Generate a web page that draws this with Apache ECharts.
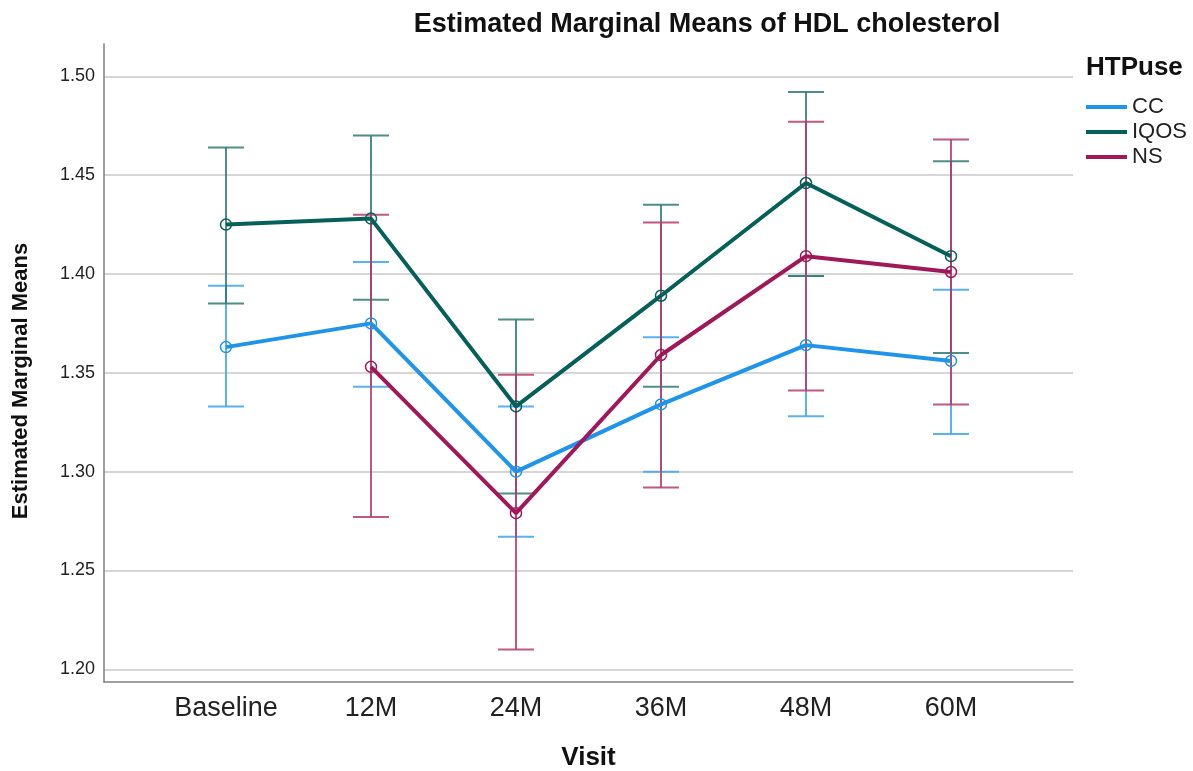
<!DOCTYPE html>
<html>
<head>
<meta charset="utf-8">
<script src="https://cdn.jsdelivr.net/npm/echarts@6/dist/echarts.min.js"></script>
<style>
  html, body { margin: 0; padding: 0; background: #ffffff; }
  #chart { width: 1193px; height: 771px; }
</style>
</head>
<body>
<div id="chart"></div>
<script>
// Visits on the x axis
const visits = ['Baseline', '12M', '24M', '36M', '48M', '60M'];

// Estimated marginal means of HDL cholesterol with 95% CI, per HTPuse group
const ccMean  = [1.363, 1.375, 1.300, 1.334, 1.364, 1.356];
const ccLow   = [1.333, 1.343, 1.267, 1.300, 1.328, 1.319];
const ccHigh  = [1.394, 1.406, 1.333, 1.368, 1.399, 1.392];

const iqosMean = [1.425, 1.428, 1.333, 1.389, 1.446, 1.409];
const iqosLow  = [1.385, 1.387, 1.289, 1.343, 1.399, 1.360];
const iqosHigh = [1.464, 1.470, 1.377, 1.435, 1.492, 1.457];

const nsMean = [null, 1.353, 1.279, 1.359, 1.409, 1.401];
const nsLow  = [null, 1.277, 1.210, 1.292, 1.341, 1.334];
const nsHigh = [null, 1.430, 1.349, 1.426, 1.477, 1.468];

// y axis tick values
const yTicks = [1.20, 1.25, 1.30, 1.35, 1.40, 1.45, 1.50];

const FONT = '"Liberation Sans", Arial, sans-serif';

const groups = [
  { name: 'CC',   mean: ccMean,   low: ccLow,   high: ccHigh,   line: '#1e94ea', bar: '#3ca5f0' },
  { name: 'IQOS', mean: iqosMean, low: iqosLow, high: iqosHigh, line: '#06605a', bar: '#2f7a74' },
  { name: 'NS',   mean: nsMean,   low: nsLow,   high: nsHigh,   line: '#a0185a', bar: '#b43c6e' }
];

function errorBarSeries(g) {
  const data = [];
  g.low.forEach((lo, i) => {
    if (lo != null && g.high[i] != null) data.push([i, lo, g.high[i]]);
  });
  return {
    type: 'custom',
    name: g.name + ' CI',
    xAxisIndex: 2,
    yAxisIndex: 2,
    z: 2,
    silent: true,
    data: data,
    encode: { x: 0, y: [1, 2] },
    renderItem: function (params, api) {
      const x = api.value(0);
      const lo = api.coord([x, api.value(1)]);
      const hi = api.coord([x, api.value(2)]);
      const half = api.size([1, 0])[0] * 0.124;
      const style = { stroke: g.bar, lineWidth: 2, opacity: 0.85 };
      return {
        type: 'group',
        children: [
          { type: 'line', shape: { x1: lo[0], y1: lo[1], x2: hi[0], y2: hi[1] }, style: style },
          { type: 'line', shape: { x1: hi[0] - half, y1: hi[1], x2: hi[0] + half, y2: hi[1] }, style: style },
          { type: 'line', shape: { x1: lo[0] - half, y1: lo[1], x2: lo[0] + half, y2: lo[1] }, style: style }
        ]
      };
    }
  };
}

function meanSeries(g) {
  return {
    type: 'line',
    name: g.name,
    xAxisIndex: 2,
    yAxisIndex: 2,
    z: 3,
    data: g.mean,
    connectNulls: false,
    symbol: 'circle',
    symbolSize: 11,
    lineStyle: { color: g.line, width: 4 },
    itemStyle: { color: 'transparent', borderColor: g.line, borderWidth: 1.5 },
    emphasis: { disabled: true },
    animation: false
  };
}

const series = [];
groups.forEach(g => series.push(errorBarSeries(g)));
groups.forEach(g => series.push(meanSeries(g)));

const option = {
  backgroundColor: '#ffffff',
  animation: false,
  textStyle: { fontFamily: FONT },
  grid: [
    // outer frame with the two axis lines
    { left: 104, top: 44, width: 969, height: 638 },
    // horizontal grid lines and y tick labels
    { left: 104, top: 76.3, width: 969, height: 593 },
    // plotted means and confidence intervals
    { left: 153.5, top: 76.3, width: 870, height: 593 }
  ],
  xAxis: [
    {
      gridIndex: 0, type: 'value', min: 0, max: 1,
      axisLine: { show: true, onZero: false, lineStyle: { color: '#7f7f7f', width: 1.5 } },
      axisTick: { show: false }, axisLabel: { show: false }, splitLine: { show: false }
    },
    { gridIndex: 1, type: 'value', min: 0, max: 1, show: false },
    {
      gridIndex: 2, type: 'category', data: visits, boundaryGap: true,
      axisLine: { show: false }, axisTick: { show: false }, splitLine: { show: false },
      axisLabel: { fontSize: 27, color: '#222222', margin: 26, fontFamily: FONT }
    }
  ],
  yAxis: [
    {
      gridIndex: 0, type: 'value', min: 0, max: 1,
      axisLine: { show: true, onZero: false, lineStyle: { color: '#7f7f7f', width: 1.5 } },
      axisTick: { show: false }, axisLabel: { show: false }, splitLine: { show: false }
    },
    {
      gridIndex: 1, type: 'value', min: yTicks[0], max: yTicks[yTicks.length - 1], interval: 0.05,
      axisLine: { show: false }, axisTick: { show: false },
      splitLine: { show: true, lineStyle: { color: '#c8c8c8', width: 1.5 } },
      axisLabel: {
        fontSize: 18, color: '#222222', margin: 9, fontFamily: FONT,
        formatter: v => v.toFixed(2)
      }
    },
    {
      gridIndex: 2, type: 'value', min: yTicks[0], max: yTicks[yTicks.length - 1], show: false
    }
  ],
  legend: {
    orient: 'vertical',
    left: 1086,
    top: 96,
    padding: 0,
    itemGap: 3,
    itemWidth: 41,
    itemHeight: 4,
    icon: 'rect',
    selectedMode: false,
    textStyle: { fontSize: 22, color: '#222222', fontFamily: FONT, padding: [0, 0, 0, 0] },
    data: groups.map(g => ({ name: g.name, itemStyle: { color: g.line, borderWidth: 0 } }))
  },
  graphic: [
    {
      type: 'text', silent: true,
      style: {
        text: 'Estimated Marginal Means of HDL cholesterol',
        x: 707, y: 25, font: 'bold 27px ' + FONT, fill: '#111111',
        align: 'center', verticalAlign: 'middle', textAlign: 'center', textVerticalAlign: 'middle'
      }
    },
    {
      type: 'text', silent: true,
      style: {
        text: 'HTPuse', x: 1086, y: 68, font: 'bold 26px ' + FONT, fill: '#111111',
        align: 'left', verticalAlign: 'middle', textAlign: 'left', textVerticalAlign: 'middle'
      }
    },
    {
      type: 'text', silent: true,
      x: 21, y: 381, rotation: Math.PI / 2,
      style: {
        text: 'Estimated Marginal Means', x: 0, y: 0, font: 'bold 22px ' + FONT, fill: '#111111',
        align: 'center', verticalAlign: 'middle', textAlign: 'center', textVerticalAlign: 'middle'
      }
    },
    {
      type: 'text', silent: true,
      style: {
        text: 'Visit', x: 588.5, y: 758, font: 'bold 26px ' + FONT, fill: '#111111',
        align: 'center', verticalAlign: 'middle', textAlign: 'center', textVerticalAlign: 'middle'
      }
    }
  ],
  series: series
};

const chart = echarts.init(document.getElementById('chart'), null, { renderer: 'canvas' });
chart.setOption(option);
</script>
</body>
</html>
